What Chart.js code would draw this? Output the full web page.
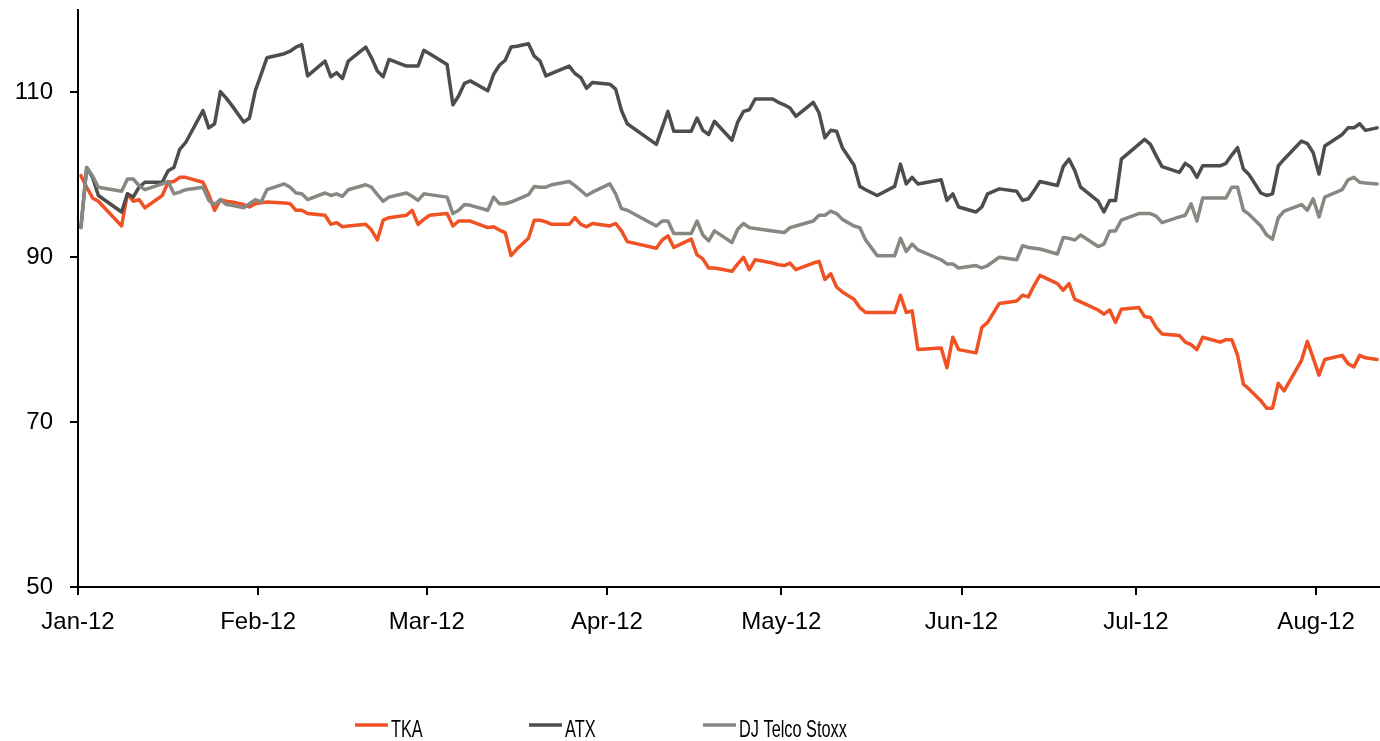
<!DOCTYPE html>
<html>
<head>
<meta charset="utf-8">
<script src="https://cdn.jsdelivr.net/npm/chart.js@4.4.1/dist/chart.umd.min.js"></script>
<style>
  html, body { margin: 0; padding: 0; background: #fff; }
</style>
</head>
<body>
<canvas id="perfChart" width="1380" height="741"></canvas>
<script>
// day of year 2012 (Jan 1 = 1), trading days
const days = [1, 2, 3, 4, 8, 9, 10, 11, 12, 15, 16, 17, 18, 19, 22, 23, 24, 25, 26, 27, 29, 30, 31, 32, 33,
  36, 37, 38, 39, 40, 43, 44, 45, 46, 47, 50, 51, 52, 53, 54, 57, 58, 59, 60, 61, 64, 65, 66, 67, 68,
  71, 72, 73, 74, 75, 76, 78, 79, 80, 81, 82, 85, 86, 87, 88, 89, 92, 93, 94, 95, 100, 101, 102, 103,
  106, 107, 108, 109, 110, 113, 114, 115, 116, 117, 120, 121, 122, 123, 124, 127, 128, 129, 130, 131,
  132, 134, 135, 136, 138, 141, 142, 143, 144, 145, 149, 150, 151, 152, 155, 156, 157, 159, 162, 163,
  164, 165, 166, 169, 170, 171, 172, 173, 176, 177, 178, 179, 180, 183, 184, 185, 186, 187, 190, 191,
  192, 193, 194, 197, 198, 199, 200, 201, 202, 204, 205, 206, 207, 208, 211, 212, 213, 214, 215, 218,
  219, 220, 221, 222, 224];

const tka = [99.9, 98.5, 97.2, 96.8, 93.8, 97.7, 96.8, 97.0, 96.0, 97.5, 99.1, 99.2, 99.7, 99.7, 99.1, 97.6,
  95.7, 97.0, 96.8, 96.7, 96.4, 96.1, 96.5, 96.6, 96.7, 96.6, 96.5, 95.7, 95.7, 95.3, 95.1, 94.0, 94.2,
  93.7, 93.8, 94.0, 93.3, 92.1, 94.5, 94.8, 95.1, 95.7, 94.0, 94.6, 95.1, 95.3, 93.8, 94.4, 94.4, 94.4,
  93.6, 93.7, 93.3, 93.0, 90.2, 91.0, 92.3, 94.5, 94.5, 94.3, 94.0, 94.0, 94.8, 94.0, 93.7, 94.1, 93.8,
  94.1, 93.2, 91.9, 91.1, 92.1, 92.6, 91.2, 92.2, 90.3, 89.8, 88.7, 88.7, 88.3, 89.2, 90.0, 88.5, 89.7,
  89.3, 89.1, 89.0, 89.3, 88.5, 89.3, 89.5, 87.3, 88.0, 86.4, 85.8, 84.9, 83.9, 83.3, 83.3, 83.3, 85.4,
  83.3, 83.5, 78.8, 79.0, 76.6, 80.3, 78.8, 78.4, 81.5, 82.1, 84.4, 84.7, 85.4, 85.2, 86.6, 87.8, 86.8,
  86.0, 86.8, 84.9, 84.6, 83.6, 83.1, 83.6, 82.1, 83.7, 83.9, 82.8, 82.7, 81.5, 80.7, 80.5, 79.7, 79.4,
  78.8, 80.3, 79.7, 80.0, 80.0, 78.1, 74.6, 74.0, 72.6, 71.7, 71.7, 74.7, 73.8, 77.5, 79.8, 77.8, 75.7,
  77.6, 78.1, 77.1, 76.7, 78.1, 77.8, 77.6];

const atx = [93.6, 100.9, 99.7, 97.5, 95.5, 97.7, 97.3, 98.5, 99.1, 99.1, 100.5, 100.9, 103.1, 103.9, 107.8,
  105.7, 106.2, 110.1, 109.3, 108.4, 106.4, 106.9, 110.2, 112.2, 114.2, 114.7, 115.0, 115.5, 115.8, 112.0,
  113.8, 111.9, 112.4, 111.7, 113.8, 115.5, 114.2, 112.6, 111.9, 114.0, 113.2, 113.2, 113.2, 115.1, 114.7,
  113.4, 108.5, 109.6, 111.1, 111.4, 110.2, 112.2, 113.3, 113.9, 115.5, 115.6, 115.9, 114.4, 113.8, 112.0,
  112.3, 113.2, 112.3, 111.8, 110.5, 111.2, 111.0, 110.4, 107.8, 106.2, 103.7, 105.7, 107.7, 105.3, 105.3,
  106.9, 105.4, 104.9, 106.5, 104.2, 106.4, 107.7, 107.9, 109.2, 109.2, 108.8, 108.5, 108.1, 107.1, 108.8,
  107.5, 104.5, 105.4, 105.3, 103.3, 101.2, 98.6, 98.2, 97.5, 98.6, 101.3, 98.9, 99.7, 98.9, 99.4, 96.9,
  97.7, 96.1, 95.5, 96.1, 97.7, 98.3, 98.0, 96.9, 97.1, 98.1, 99.2, 98.7, 101.0, 101.9, 100.5, 98.5, 96.8,
  95.5, 96.9, 96.9, 101.9, 103.7, 104.3, 103.7, 102.3, 101.0, 100.3, 101.4, 100.9, 99.7, 101.1, 101.1,
  101.4, 102.4, 103.3, 100.7, 100.0, 97.8, 97.5, 97.7, 101.1, 101.9, 104.1, 103.8, 102.7, 100.1, 103.5,
  104.9, 105.7, 105.7, 106.2, 105.4, 105.7];

const djStoxx = [93.6, 100.9, 99.9, 98.5, 98.0, 99.5, 99.5, 98.7, 98.2, 98.9, 99.2, 97.7, 97.9, 98.2, 98.5,
  96.9, 96.4, 97.0, 96.4, 96.3, 96.0, 96.5, 97.0, 96.7, 98.2, 98.9, 98.5, 97.8, 97.7, 97.0, 97.8, 97.5,
  97.7, 97.4, 98.2, 98.8, 98.5, 97.6, 96.8, 97.3, 97.8, 97.4, 96.9, 97.7, 97.6, 97.3, 95.3, 95.7, 96.4,
  96.3, 95.7, 97.3, 96.5, 96.5, 96.7, 97.0, 97.6, 98.6, 98.5, 98.5, 98.8, 99.2, 98.7, 98.1, 97.5, 97.9,
  98.9, 97.7, 95.9, 95.7, 93.8, 94.4, 94.4, 92.9, 92.9, 94.4, 92.7, 92.0, 93.2, 91.8, 93.4, 94.1, 93.6,
  93.5, 93.2, 93.1, 93.0, 93.6, 93.8, 94.4, 95.1, 95.1, 95.6, 95.3, 94.6, 93.8, 93.6, 92.1, 90.2, 90.2,
  92.3, 90.7, 91.6, 90.9, 89.7, 89.2, 89.2, 88.7, 89.0, 88.7, 89.0, 90.0, 89.7, 91.4, 91.2, 91.1, 91.0,
  90.4, 92.4, 92.3, 92.1, 92.7, 91.3, 91.6, 93.2, 93.2, 94.5, 95.3, 95.3, 95.3, 95.0, 94.2, 94.9, 95.1,
  96.5, 94.4, 97.2, 97.2, 97.2, 98.5, 98.5, 95.7, 95.2, 93.8, 92.7, 92.2, 94.8, 95.6, 96.4, 95.7, 97.1,
  94.9, 97.3, 98.2, 99.4, 99.7, 99.1, 99.0, 98.9];

const monthStarts = [1, 32, 61, 92, 122, 153, 183, 214];
const monthLabels = ['Jan-12', 'Feb-12', 'Mar-12', 'Apr-12', 'May-12', 'Jun-12', 'Jul-12', 'Aug-12'];
const yTicks = [50, 70, 90, 110];

const toPoints = values => values.map((v, i) => ({ x: days[i], y: v }));

const tickFont = { family: '"Liberation Sans", Arial, sans-serif', size: 24 };

// Excel style legend: equal slots, short line sample, narrow text
const bottomLegend = {
    id: 'bottomLegend',
    afterDraw(chart) {
        const ctx = chart.ctx;
        const startX = 355, slot = 174, lineY = 725, textY = 737;
        ctx.save();
        chart.data.datasets.forEach((ds, i) => {
            const x = startX + i * slot;
            ctx.strokeStyle = ds.borderColor;
            ctx.lineWidth = 3.5;
            ctx.beginPath();
            ctx.moveTo(x, lineY);
            ctx.lineTo(x + 33, lineY);
            ctx.stroke();
            ctx.save();
            ctx.translate(x + 36, textY);
            ctx.scale(0.68, 1);
            ctx.fillStyle = '#000';
            ctx.font = '24px "Liberation Sans", Arial, sans-serif';
            ctx.textBaseline = 'alphabetic';
            ctx.fillText(ds.label, 0, 0);
            ctx.restore();
        });
        ctx.restore();
    }
};

const lineStyle = {
    borderWidth: 3.5,
    pointRadius: 0,
    borderJoinStyle: 'round',
    borderCapStyle: 'round'
};

const ctx = document.getElementById('perfChart').getContext('2d');
const perfChart = new Chart(ctx, {
    type: 'line',
    data: {
        datasets: [{
            ...lineStyle,
            label: 'TKA',
            data: toPoints(tka),
            borderColor: '#F05223',
            order: 2
        }, {
            ...lineStyle,
            label: 'ATX',
            data: toPoints(atx),
            borderColor: '#4D4D4B',
            order: 1
        }, {
            ...lineStyle,
            label: 'DJ Telco Stoxx',
            data: toPoints(djStoxx),
            borderColor: '#878882',
            order: 0
        }]
    },
    options: {
        responsive: false,
        animation: false,
        layout: { padding: { top: 10, right: 0, bottom: 0, left: 0 } },
        plugins: {
            legend: { display: false },
            tooltip: { enabled: false }
        },
        scales: {
            x: {
                type: 'linear',
                min: 0.5,
                max: 224.5,
                afterBuildTicks: scale => {
                    scale.ticks = monthStarts.map(d => ({ value: d - 0.5 }));
                },
                afterFit: scale => {
                    scale.height = 154;
                    scale.paddingLeft = 0;
                    scale.paddingRight = 0;
                },
                ticks: {
                    autoSkip: false,
                    maxRotation: 0,
                    padding: 13,
                    color: '#000',
                    font: tickFont,
                    callback: (value, index) => monthLabels[index]
                },
                grid: { drawOnChartArea: false, drawTicks: true, tickLength: 8, color: '#000', lineWidth: 2 },
                border: { display: true, color: '#000', width: 2 }
            },
            y: {
                min: 50,
                max: 120,
                afterBuildTicks: scale => {
                    scale.ticks = yTicks.map(v => ({ value: v }));
                },
                afterFit: scale => {
                    scale.width = 78;
                    scale.paddingTop = 0;
                    scale.paddingBottom = 0;
                },
                ticks: {
                    padding: 17,
                    color: '#000',
                    font: tickFont
                },
                grid: { drawOnChartArea: false, drawTicks: true, tickLength: 8, color: '#000', lineWidth: 2 },
                border: { display: true, color: '#000', width: 2 }
            }
        }
    },
    plugins: [bottomLegend]
});
</script>
</body>
</html>
